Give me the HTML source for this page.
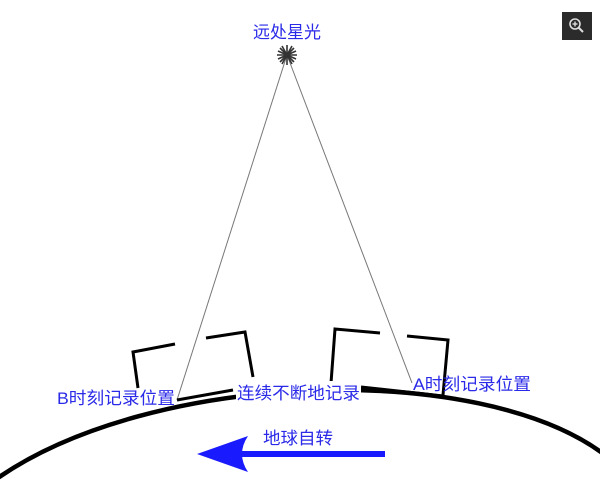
<!DOCTYPE html>
<html><head><meta charset="utf-8"><style>
html,body{margin:0;padding:0;background:#fff;}
svg{display:block;}
text{font-family:"Liberation Sans","Noto Sans CJK SC",sans-serif;fill:#2a2ae8;font-size:17px;}
</style></head><body>
<svg width="600" height="489" viewBox="0 0 600 489" xmlns="http://www.w3.org/2000/svg">
<rect x="562" y="12" width="30" height="28" fill="#2b2b2b"/>
<circle cx="575" cy="24" r="5" fill="none" stroke="#ddd" stroke-width="1.6"/>
<line x1="572.5" y1="24" x2="577.5" y2="24" stroke="#ddd" stroke-width="1.4"/>
<line x1="575" y1="21.5" x2="575" y2="26.5" stroke="#ddd" stroke-width="1.4"/>
<line x1="578.5" y1="27.5" x2="583" y2="32" stroke="#ddd" stroke-width="2"/>

<path d="M -5,480 C 150,370 480,360 605,455" fill="none" stroke="#000" stroke-width="4.5"/>

<line x1="287" y1="55" x2="177" y2="400" stroke="#777" stroke-width="1"/>
<line x1="287" y1="55" x2="412" y2="383" stroke="#777" stroke-width="1"/>

<g stroke="#333" stroke-width="1.6">
<line x1="277" y1="55" x2="297" y2="55"/><line x1="287" y1="45" x2="287" y2="65"/>
<line x1="280" y1="48" x2="294" y2="62"/><line x1="294" y1="48" x2="280" y2="62"/>
<line x1="282" y1="46" x2="292" y2="64"/><line x1="292" y1="46" x2="282" y2="64"/>
<line x1="278" y1="51" x2="296" y2="59"/><line x1="296" y1="51" x2="278" y2="59"/>
</g>

<g fill="none" stroke="#000" stroke-width="3">
<polyline points="175,344 133,352 138,388"/>
<polyline points="206,338 245,332 253,377"/>
<line x1="177" y1="400" x2="233" y2="390"/>
<polyline points="380,333 335,329 331,383"/>
<polyline points="407,336 448,340 443,395"/>
<line x1="361" y1="387" x2="443" y2="396"/>
</g>

<line x1="385" y1="454" x2="232" y2="454" stroke="#1a1aff" stroke-width="6"/>
<path d="M197,454 L248,436 Q236,454 248,472 Z" fill="#1a1aff"/>

<text x="287" y="38" text-anchor="middle">远处星光</text>
<rect x="236" y="381" width="125" height="22" fill="#fff"/>
<text x="57" y="404" textLength="118" lengthAdjust="spacingAndGlyphs">B时刻记录位置</text>
<text x="237" y="399" textLength="123" lengthAdjust="spacingAndGlyphs">连续不断地记录</text>
<text x="413" y="390" textLength="118" lengthAdjust="spacingAndGlyphs">A时刻记录位置</text>
<text x="263" y="444" textLength="70" lengthAdjust="spacingAndGlyphs">地球自转</text>
</svg>
</body></html>
